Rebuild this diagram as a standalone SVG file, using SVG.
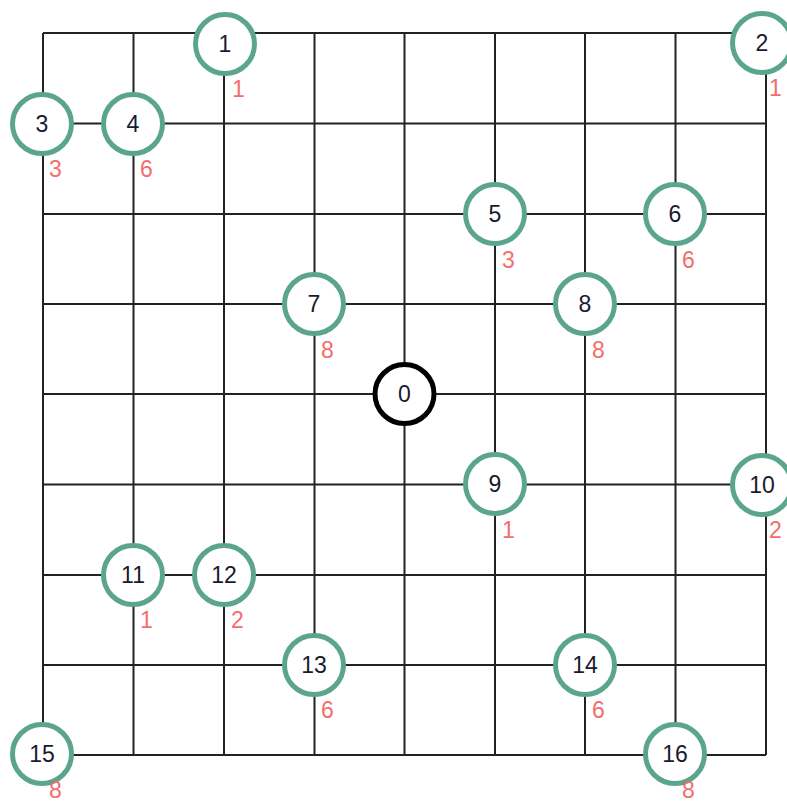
<svg xmlns="http://www.w3.org/2000/svg" width="787" height="804" viewBox="0 0 787 804">
<style>
.grid line{stroke:#222;stroke-width:2;}
.node circle{fill:#fff;stroke:#5aa58b;stroke-width:5;}
.node.root circle{stroke:#000;}
.node text.id{font-family:"Liberation Sans",Arial,sans-serif;font-size:23px;fill:#1a1a2e;text-anchor:middle;}
.node text.w{font-family:"Liberation Sans",Arial,sans-serif;font-size:23px;fill:#f56c6c;}
</style>
<rect width="787" height="804" fill="#fff"/>
<g id="connectors" class="grid">
<line x1="43" y1="33" x2="766" y2="33"/>
<line x1="43" y1="123.5" x2="766" y2="123.5"/>
<line x1="43" y1="214" x2="766" y2="214"/>
<line x1="43" y1="304" x2="766" y2="304"/>
<line x1="43" y1="394" x2="766" y2="394"/>
<line x1="43" y1="484.5" x2="766" y2="484.5"/>
<line x1="43" y1="575" x2="766" y2="575"/>
<line x1="43" y1="665" x2="766" y2="665"/>
<line x1="43" y1="755" x2="766" y2="755"/>
<line x1="43" y1="33" x2="43" y2="755"/>
<line x1="133.5" y1="33" x2="133.5" y2="755"/>
<line x1="224" y1="33" x2="224" y2="755"/>
<line x1="314.5" y1="33" x2="314.5" y2="755"/>
<line x1="404.5" y1="33" x2="404.5" y2="755"/>
<line x1="495" y1="33" x2="495" y2="755"/>
<line x1="585" y1="33" x2="585" y2="755"/>
<line x1="675.5" y1="33" x2="675.5" y2="755"/>
<line x1="766" y1="33" x2="766" y2="755"/>
</g>
<g id="node0" class="node root"><circle cx="404.5" cy="394" r="29.5"/><text class="id" x="404.5" y="402">0</text></g>
<g id="node1" class="node"><circle cx="225" cy="44" r="29.5"/><text class="id" x="225" y="52">1</text><text class="w" x="232" y="97">1</text></g>
<g id="node2" class="node"><circle cx="762" cy="43" r="29.5"/><text class="id" x="762" y="51">2</text><text class="w" x="769" y="96">1</text></g>
<g id="node3" class="node"><circle cx="42" cy="124" r="29.5"/><text class="id" x="42" y="132">3</text><text class="w" x="49" y="177">3</text></g>
<g id="node4" class="node"><circle cx="133" cy="124" r="29.5"/><text class="id" x="133" y="132">4</text><text class="w" x="140" y="177">6</text></g>
<g id="node5" class="node"><circle cx="495" cy="214" r="29.5"/><text class="id" x="495" y="222">5</text><text class="w" x="502" y="268">3</text></g>
<g id="node6" class="node"><circle cx="675" cy="214" r="29.5"/><text class="id" x="675" y="222">6</text><text class="w" x="682" y="268">6</text></g>
<g id="node7" class="node"><circle cx="314" cy="304" r="29.5"/><text class="id" x="314" y="312">7</text><text class="w" x="321" y="358">8</text></g>
<g id="node8" class="node"><circle cx="585" cy="304" r="29.5"/><text class="id" x="585" y="312">8</text><text class="w" x="592" y="358">8</text></g>
<g id="node9" class="node"><circle cx="495" cy="484" r="29.5"/><text class="id" x="495" y="492">9</text><text class="w" x="502" y="538">1</text></g>
<g id="node10" class="node"><circle cx="762" cy="485" r="29.5"/><text class="id" x="762" y="493">10</text><text class="w" x="769" y="538">2</text></g>
<g id="node11" class="node"><circle cx="133" cy="575" r="29.5"/><text class="id" x="133" y="583">11</text><text class="w" x="140" y="628">1</text></g>
<g id="node12" class="node"><circle cx="224" cy="575" r="29.5"/><text class="id" x="224" y="583">12</text><text class="w" x="231" y="628">2</text></g>
<g id="node13" class="node"><circle cx="314" cy="665" r="29.5"/><text class="id" x="314" y="673">13</text><text class="w" x="321" y="718">6</text></g>
<g id="node14" class="node"><circle cx="585" cy="665" r="29.5"/><text class="id" x="585" y="673">14</text><text class="w" x="592" y="718">6</text></g>
<g id="node15" class="node"><circle cx="42" cy="754" r="29.5"/><text class="id" x="42" y="762">15</text><text class="w" x="49" y="798">8</text></g>
<g id="node16" class="node"><circle cx="675" cy="754" r="29.5"/><text class="id" x="675" y="762">16</text><text class="w" x="682" y="798">8</text></g>
</svg>
